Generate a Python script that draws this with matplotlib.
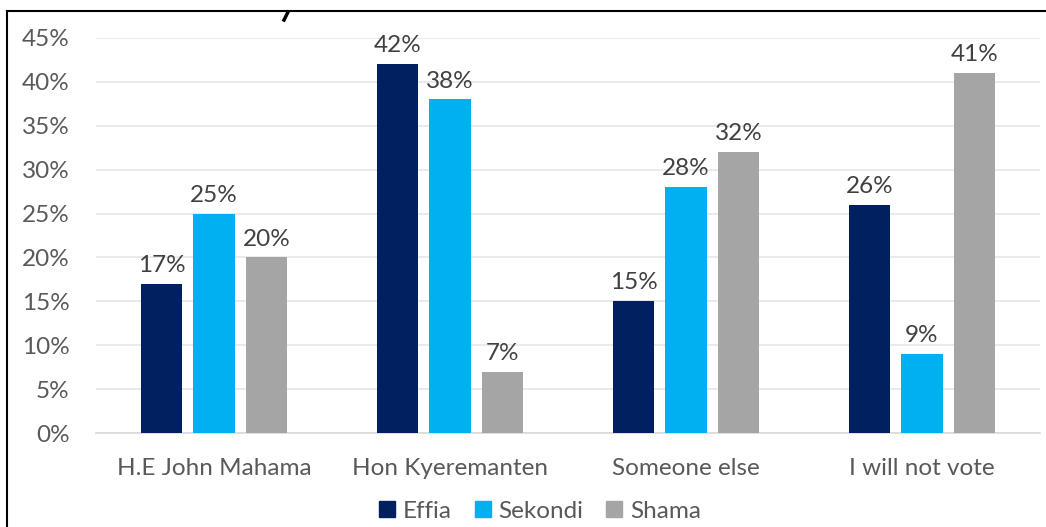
import matplotlib
matplotlib.use("Agg")
import matplotlib.pyplot as plt
import numpy as np
from matplotlib.lines import Line2D

categories = ["H.E John Mahama", "Hon Kyeremanten", "Someone else", "I will not vote"]
series_names = ["Effia", "Sekondi", "Shama"]
effia = [17, 42, 15, 26]
sekondi = [25, 38, 28, 9]
shama = [20, 7, 32, 41]
colors = ["#002060", "#00B0F0", "#A5A5A5"]
yticks = [0, 5, 10, 15, 20, 25, 30, 35, 40, 45]

plt.rcParams['font.family'] = ['Lato', 'DejaVu Sans']
text_color = "#595959"
fs = 17.5

fig = plt.figure(figsize=(10.46, 5.27), dpi=100)
ax = fig.add_axes([96/1046, 1-433/527, (1040-96)/1046, (433-38)/527])

x = np.arange(len(categories))
width = 0.174
pitch = 0.222
for i, (vals, name, c) in enumerate(zip([effia, sekondi, shama], series_names, colors)):
    pos = x + (i-1)*pitch
    ax.bar(pos, vals, width=width, color=c, label=name, zorder=3)
    for p, v in zip(pos, vals):
        ax.text(p, v + 0.9, f"{v}%", ha='center', va='bottom', fontsize=fs, color="#404040")

ax.set_xlim(-0.5, 3.5)
ax.set_ylim(0, 45)
ax.set_yticks(yticks)
ax.set_yticklabels([f"{t}%" for t in yticks], fontsize=fs, color=text_color)
ax.set_xticks(x)
ax.set_xticklabels(categories, fontsize=fs, color=text_color)
ax.tick_params(axis='both', length=0)
ax.tick_params(axis='y', pad=19)
ax.tick_params(axis='x', pad=18)
ax.grid(axis='y', color="#E6E6E6", linewidth=1.2, zorder=0)
for s in ["top", "right", "left"]:
    ax.spines[s].set_visible(False)
ax.spines["bottom"].set_color("#D9D9D9")
ax.spines["bottom"].set_linewidth(1.2)

handles = [Line2D([], [], marker='s', linestyle='', markersize=11, color=c) for c in colors]
fig.legend(handles, series_names, loc='center', bbox_to_anchor=(538/1046, 1-511/527),
           ncol=3, frameon=False, fontsize=fs, labelcolor=text_color,
           handletextpad=0.15, columnspacing=0.77, handlelength=1.0)

# frame lines
fig.add_artist(Line2D([7/1046, 1], [1-11/527, 1-11/527], color='black', linewidth=1.5))
fig.add_artist(Line2D([7/1046, 7/1046], [0, 1-11/527], color='black', linewidth=1.5))
fig.add_artist(Line2D([284/1046, 288/1046], [1-20/527, 1-12/527], color='black', linewidth=2.5))

fig.savefig("out.png", dpi=100)
